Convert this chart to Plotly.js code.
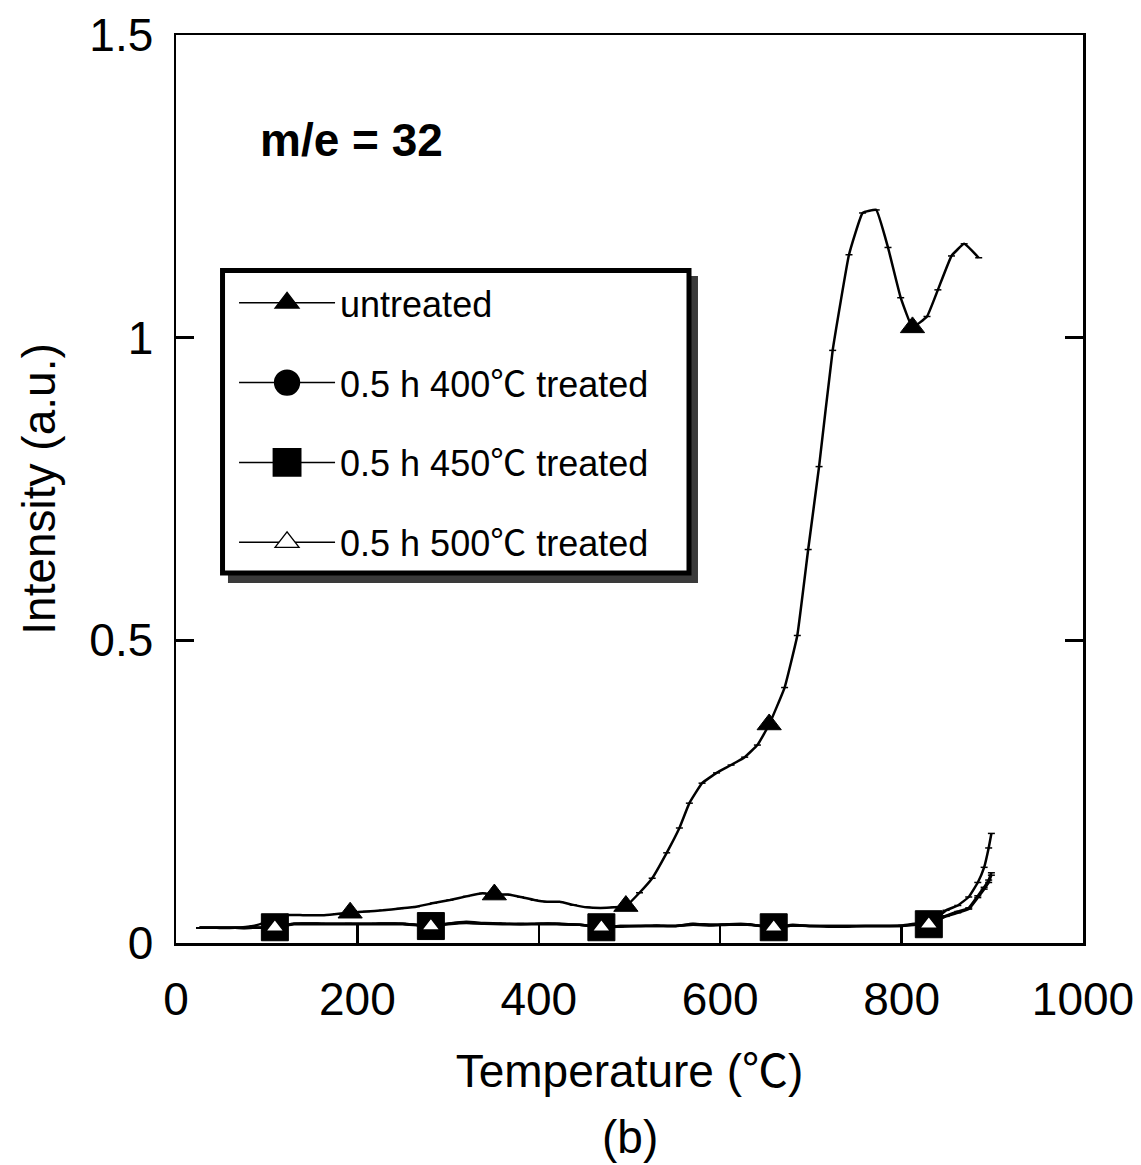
<!DOCTYPE html>
<html>
<head>
<meta charset="utf-8">
<script src="https://cdn.plot.ly/plotly-3.0.1.min.js"></script>
<style>html,body{margin:0;padding:0;background:#fff;}#chart{width:1141px;height:1165px;}</style>
</head>
<body>
<div id="chart"></div>
<script>
// ---- data ----
var tempUntreated = [26, 45, 65, 85, 100, 118, 140, 162, 177, 192, 210, 228, 247, 265, 284, 302, 320, 338, 351, 366, 380, 395, 409, 423, 438, 453, 468, 483, 496, 511, 525, 541, 555, 566, 580, 596, 612, 627, 641, 654, 671, 685, 697, 709, 724, 742, 757, 772, 785, 799, 812, 828, 840, 855, 869, 885];
var intUntreated = [0.025, 0.025, 0.025, 0.028, 0.035, 0.046, 0.046, 0.046, 0.048, 0.050, 0.052, 0.054, 0.057, 0.060, 0.066, 0.071, 0.077, 0.082, 0.080, 0.080, 0.076, 0.071, 0.068, 0.068, 0.063, 0.059, 0.058, 0.059, 0.061, 0.083, 0.107, 0.149, 0.190, 0.231, 0.264, 0.281, 0.294, 0.307, 0.327, 0.361, 0.422, 0.508, 0.650, 0.787, 0.979, 1.137, 1.206, 1.211, 1.149, 1.066, 1.017, 1.035, 1.079, 1.135, 1.155, 1.132];
var markUntreated = [9, 18, 28, 39, 50];

var tempTreated = [26, 45, 65, 85, 109, 130, 160, 190, 220, 250, 281, 300, 320, 340, 360, 380, 400, 420, 445, 469, 490, 510, 530, 550, 570, 590, 610, 630, 659, 680, 700, 720, 740, 760, 780, 800, 815, 830, 849, 862, 874, 884, 891, 896, 899];
var int400 = [0.025, 0.025, 0.025, 0.025, 0.026, 0.032, 0.032, 0.032, 0.032, 0.032, 0.028, 0.032, 0.035, 0.033, 0.032, 0.032, 0.032, 0.032, 0.030, 0.026, 0.028, 0.028, 0.029, 0.028, 0.032, 0.030, 0.031, 0.031, 0.026, 0.030, 0.028, 0.028, 0.028, 0.028, 0.028, 0.029, 0.032, 0.031, 0.054, 0.062, 0.076, 0.100, 0.125, 0.157, 0.181];
var int450 = [0.025, 0.025, 0.025, 0.025, 0.026, 0.032, 0.032, 0.032, 0.032, 0.032, 0.028, 0.032, 0.034, 0.032, 0.032, 0.031, 0.032, 0.032, 0.030, 0.026, 0.028, 0.028, 0.028, 0.028, 0.031, 0.030, 0.031, 0.031, 0.026, 0.029, 0.028, 0.028, 0.028, 0.028, 0.028, 0.028, 0.031, 0.031, 0.045, 0.052, 0.058, 0.078, 0.092, 0.104, 0.116];
var int500 = [0.025, 0.025, 0.025, 0.025, 0.026, 0.031, 0.031, 0.031, 0.031, 0.031, 0.028, 0.031, 0.033, 0.032, 0.031, 0.031, 0.031, 0.031, 0.030, 0.026, 0.027, 0.028, 0.028, 0.028, 0.030, 0.029, 0.030, 0.030, 0.026, 0.029, 0.028, 0.027, 0.027, 0.028, 0.028, 0.028, 0.030, 0.031, 0.044, 0.050, 0.056, 0.075, 0.089, 0.100, 0.112];
var markTreated = [4, 10, 19, 28, 37];

var DEG = '<span style="font-family:Noto Sans CJK SC">℃</span>';
var seriesNames = ['untreated', '0.5 h 400' + DEG + ' treated', '0.5 h 450' + DEG + ' treated', '0.5 h 500' + DEG + ' treated'];
var xTickVals = [0, 200, 400, 600, 800, 1000];
var yTickVals = [0, 0.5, 1, 1.5];
var yTickText = ['0', '0.5', '1', '1.5'];

// ---- build ----
var FONT = 'Liberation Sans, Arial, Noto Sans CJK SC, sans-serif';
function pick(arr, idx) { return idx.map(function (i) { return arr[i]; }); }

var series = [
  {name: seriesNames[0], x: tempUntreated, y: intUntreated, idx: markUntreated,
   marker: {symbol: 'triangle-up', size: 21, color: '#000', line: {color: '#000', width: 1}}},
  {name: seriesNames[1], x: tempTreated, y: int400, idx: markTreated,
   marker: {symbol: 'circle', size: 24, color: '#000', line: {color: '#000', width: 1}}},
  {name: seriesNames[2], x: tempTreated, y: int450, idx: markTreated,
   marker: {symbol: 'square', size: 27, color: '#000', line: {color: '#000', width: 1}}},
  {name: seriesNames[3], x: tempTreated, y: int500, idx: markTreated,
   marker: {symbol: 'triangle-up', size: 16, color: '#fff', line: {color: '#000', width: 1.5}}}
];

var traces = [];
series.forEach(function (s) {
  traces.push({
    x: s.x, y: s.y, type: 'scatter', mode: 'lines+markers', showlegend: false, hoverinfo: 'skip',
    line: {color: '#000', width: 2.5, shape: 'spline', smoothing: 0.3},
    marker: {symbol: 'line-ew', size: 5, line: {color: '#000', width: 1.5}}
  });
});
series.forEach(function (s) {
  traces.push({
    x: pick(s.x, s.idx), y: pick(s.y, s.idx), type: 'scatter', mode: 'markers', showlegend: false,
    name: s.name, marker: s.marker, cliponaxis: false
  });
});
series.forEach(function (s, i) {
  traces.push({
    x: [null], y: [null], type: 'scatter', mode: 'lines+markers', name: s.name, legendgroup: 'g' + i,
    line: {color: '#000', width: 1.5},
    marker: {symbol: s.marker.symbol, size: 16, color: s.marker.color, line: {color: '#000', width: 1}}
  });
});

var layout = {
  width: 1141, height: 1165,
  paper_bgcolor: '#fff', plot_bgcolor: '#fff',
  margin: {l: 176, r: 58, t: 35, b: 222},
  font: {family: FONT, color: '#000', size: 46},
  showlegend: true,
  xaxis: {
    range: [0, 1000], tickvals: xTickVals, ticks: 'inside', ticklen: 18, tickwidth: 2.5, tickcolor: '#000',
    showline: true, linecolor: '#000', linewidth: 2.5, mirror: true, showgrid: false, zeroline: false,
    tickfont: {size: 46, family: FONT}, ticklabelstandoff: 14,
    title: {text: 'Temperature (' + DEG + ')', font: {size: 46, family: FONT}, standoff: 31}
  },
  yaxis: {
    range: [0, 1.5], tickvals: yTickVals, ticktext: yTickText, ticks: 'inside', ticklen: 18, tickwidth: 2.5, tickcolor: '#000',
    showline: true, linecolor: '#000', linewidth: 2.5, mirror: 'ticks', showgrid: false, zeroline: false,
    tickfont: {size: 46, family: FONT}, ticklabelstandoff: 11,
    title: {text: 'Intensity (a.u.)', font: {size: 46, family: FONT}, standoff: 19}
  },
  legend: {
    x: 0.064, y: 0.738, xanchor: 'left', yanchor: 'top',
    bgcolor: 'rgba(0,0,0,0)', borderwidth: 0,
    font: {size: 36, family: FONT, color: '#000'},
    itemwidth: 96, tracegroupgap: 30, traceorder: 'grouped'
  },
  shapes: [
    {type: 'rect', xref: 'paper', yref: 'paper', x0: 0.0573, x1: 0.5755, y0: 0.3965, y1: 0.7346,
     fillcolor: '#3a3a3a', line: {width: 0}, layer: 'above'},
    {type: 'rect', xref: 'paper', yref: 'paper', x0: 0.0513, x1: 0.5656, y0: 0.4075, y1: 0.7406,
     fillcolor: '#fff', line: {color: '#000', width: 5}, layer: 'above'}
  ],
  annotations: [
    {text: '<b>m/e = 32</b>', xref: 'paper', yref: 'paper', x: 0.090, y: 0.884, xanchor: 'left', yanchor: 'middle',
     showarrow: false, font: {size: 46, family: FONT, color: '#000'}},
    {text: '(b)', xref: 'paper', yref: 'paper', x: 0.5, y: -0.2137, xanchor: 'center', yanchor: 'middle',
     showarrow: false, font: {size: 46, family: FONT, color: '#000'}}
  ]
};

Plotly.newPlot('chart', traces, layout, {displayModeBar: false, staticPlot: true}).then(function (gd) {
  var scales = [1.3, 1.55, 1.7, 1.3];
  var pts = gd.querySelectorAll('.legend .traces');
  pts.forEach(function (t, i) {
    t.querySelectorAll('.legendpoints path.scatterpts').forEach(function (p) {
      var tr = p.getAttribute('transform') || '';
      p.setAttribute('transform', tr + ' scale(' + scales[i % 4] + ')');
    });
  });
});
</script>
</body>
</html>
